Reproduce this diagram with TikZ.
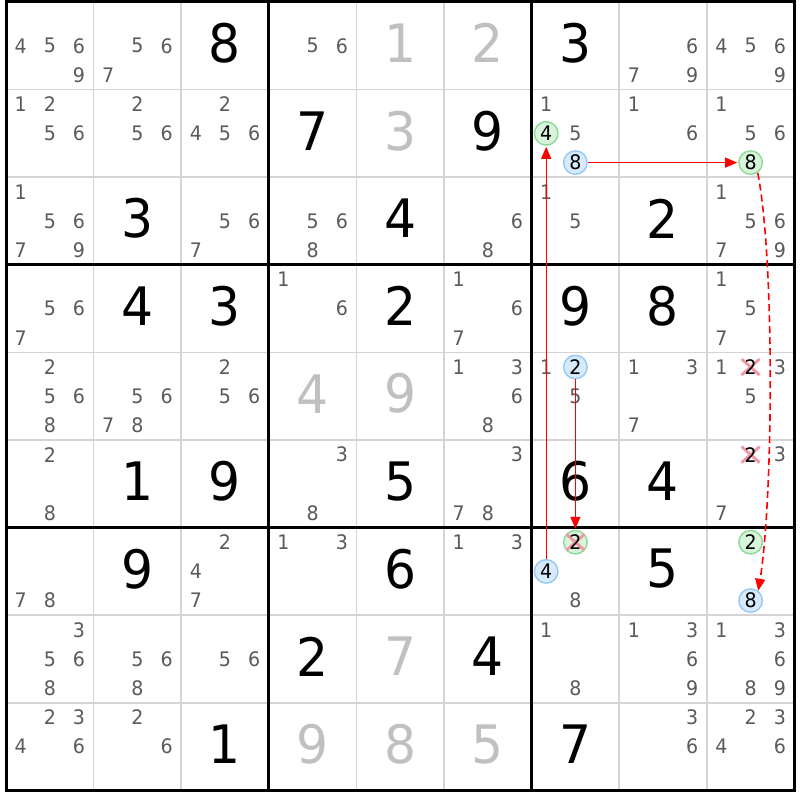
\documentclass[tikz,border=0pt]{standalone}
\usepackage{fontspec}
\usetikzlibrary{arrows.meta}
\newfontfamily\digf{DejaVu Sans}[FakeStretch=0.95]
\definecolor{cgray}{RGB}{90,90,90}
\definecolor{pgray}{RGB}{192,192,192}
\definecolor{gridgray}{RGB}{212,212,212}
\definecolor{bluebd}{RGB}{150,200,245}
\definecolor{bluefl}{RGB}{214,234,251}
\definecolor{greenbd}{RGB}{140,218,150}
\definecolor{greenfl}{RGB}{216,245,220}
\definecolor{crossc}{RGB}{242,150,162}
\def\gx{6}\def\gy{2}\def\cs{87.6}
\newcommand\cpos[3]{%
  \pgfmathsetmacro\px{\gx+(#2-1)*\cs+(mod(#3-1,3)+0.5)*\cs/3}%
  \pgfmathsetmacro\py{\gy+(#1-1)*\cs+(floor((#3-1)/3)+0.5)*\cs/3}%
}
\newcommand\cands[3]{\foreach \d in {#3}{\cpos{#1}{#2}{\d}\node[cand] (k-#1-#2-\d) at (\px,\py) {\d};}}
\newcommand\ccand[4]{\cpos{#2}{#3}{#4}\node[#1] (k-#2-#3-#4) at (\px,\py) {#4};}
% crossed candidate: optional background node, pink X, digit on top
\newcommand\xcand[4]{\cpos{#2}{#3}{#4}%
  \node[#1] (k-#2-#3-#4) at (\px,\py) {\phantom{#4}};
  \draw[crossl] (k-#2-#3-#4.center) +(-9,-8) -- +(9,8);
  \draw[crossl] (k-#2-#3-#4.center) +(-9,8) -- +(9,-8);
  \node[xtext] (t-#2-#3-#4) at (k-#2-#3-#4.center) {#4};}
\newcommand\given[3]{%
  \pgfmathsetmacro\px{\gx+(#2-0.5)*\cs}%
  \pgfmathsetmacro\py{\gy+(#1-0.5)*\cs-2.5}%
  \node[givenst] (g-#1-#2) at (\px,\py) {#3};}
\newcommand\placed[3]{%
  \pgfmathsetmacro\px{\gx+(#2-0.5)*\cs}%
  \pgfmathsetmacro\py{\gy+(#1-0.5)*\cs-2.5}%
  \node[placedst] (g-#1-#2) at (\px,\py) {#3};}
\begin{document}
\begin{tikzpicture}[x=1pt,y=-1pt,
  cand/.style={inner sep=0pt, text=cgray, font=\digf\fontsize{20}{20}\selectfont},
  xtext/.style={inner sep=0pt, text=black, font=\digf\fontsize{20}{20}\selectfont},
  plainx/.style={inner sep=0pt, font=\digf\fontsize{20}{20}\selectfont},
  givenst/.style={inner sep=0pt, text=black, font=\digf\fontsize{53}{53}\selectfont},
  placedst/.style={inner sep=0pt, text=pgray, font=\digf\fontsize{53}{53}\selectfont},
  bluec/.style={circle, draw=bluebd, fill=bluefl, line width=1.4pt, minimum size=23.5pt, inner sep=0pt, text=black, font=\digf\fontsize{20}{20}\selectfont},
  greenc/.style={circle, draw=greenbd, fill=greenfl, line width=1.4pt, minimum size=23.5pt, inner sep=0pt, text=black, font=\digf\fontsize{20}{20}\selectfont},
  thinl/.style={draw=gridgray, line width=1.6pt},
  thickl/.style={draw=black, line width=3pt},
  crossl/.style={draw=crossc, line width=2.8pt},
  arr/.style={draw=red, line width=1.3pt, -{Triangle[length=12pt,width=10pt]}, shorten >=1pt},
  arrd/.style={draw=red, line width=1.6pt, dash pattern=on 7pt off 4pt, -{Triangle[length=12pt,width=10pt]}}
]
\useasboundingbox (0,0) rectangle (800,800);
\fill[white] (0,0) rectangle (800,800);
% grid
\foreach \i in {1,2,4,5,7,8}{
  \draw[thinl] ({\gx+\i*\cs},\gy) -- ({\gx+\i*\cs},{\gy+9*\cs});
  \draw[thinl] (\gx,{\gy+\i*\cs}) -- ({\gx+9*\cs},{\gy+\i*\cs});
}
\foreach \i in {3,6}{
  \draw[thickl] ({\gx+\i*\cs},\gy) -- ({\gx+\i*\cs},{\gy+9*\cs});
  \draw[thickl] (\gx,{\gy+\i*\cs}) -- ({\gx+9*\cs},{\gy+\i*\cs});
}
\draw[thickl] (\gx,\gy) rectangle ({\gx+9*\cs},{\gy+9*\cs});
% row 1
\cands{1}{1}{4,5,6,9}\cands{1}{2}{5,6,7}\given{1}{3}{8}\cands{1}{4}{5,6}\placed{1}{5}{1}\placed{1}{6}{2}\given{1}{7}{3}\cands{1}{8}{6,7,9}\cands{1}{9}{4,5,6,9}
% row 2
\cands{2}{1}{1,2,5,6}\cands{2}{2}{2,5,6}\cands{2}{3}{2,4,5,6}\given{2}{4}{7}\placed{2}{5}{3}\given{2}{6}{9}
\cands{2}{7}{1,5}\ccand{greenc}{2}{7}{4}\ccand{bluec}{2}{7}{8}
\cands{2}{8}{1,6}\cands{2}{9}{1,5,6}\ccand{greenc}{2}{9}{8}
% row 3
\cands{3}{1}{1,5,6,7,9}\given{3}{2}{3}\cands{3}{3}{5,6,7}\cands{3}{4}{5,6,8}\given{3}{5}{4}\cands{3}{6}{6,8}\cands{3}{7}{1,5}\given{3}{8}{2}\cands{3}{9}{1,5,6,7,9}
% row 4
\cands{4}{1}{5,6,7}\given{4}{2}{4}\given{4}{3}{3}\cands{4}{4}{1,6}\given{4}{5}{2}\cands{4}{6}{1,6,7}\given{4}{7}{9}\given{4}{8}{8}\cands{4}{9}{1,5,7}
% row 5
\cands{5}{1}{2,5,6,8}\cands{5}{2}{5,6,7,8}\cands{5}{3}{2,5,6}\placed{5}{4}{4}\placed{5}{5}{9}\cands{5}{6}{1,3,6,8}
\cands{5}{7}{1,5}\ccand{bluec}{5}{7}{2}
\cands{5}{8}{1,3,7}\cands{5}{9}{1,3,5}\xcand{plainx}{5}{9}{2}
% row 6
\cands{6}{1}{2,8}\given{6}{2}{1}\given{6}{3}{9}\cands{6}{4}{3,8}\given{6}{5}{5}\cands{6}{6}{3,7,8}\given{6}{7}{6}\given{6}{8}{4}\cands{6}{9}{3,7}\xcand{plainx}{6}{9}{2}
% row 7
\cands{7}{1}{7,8}\given{7}{2}{9}\cands{7}{3}{2,4,7}\cands{7}{4}{1,3}\given{7}{5}{6}\cands{7}{6}{1,3}
\cands{7}{7}{8}\xcand{greenc}{7}{7}{2}\ccand{bluec}{7}{7}{4}
\given{7}{8}{5}\ccand{greenc}{7}{9}{2}\ccand{bluec}{7}{9}{8}
% row 8
\cands{8}{1}{3,5,6,8}\cands{8}{2}{5,6,8}\cands{8}{3}{5,6}\given{8}{4}{2}\placed{8}{5}{7}\given{8}{6}{4}\cands{8}{7}{1,8}\cands{8}{8}{1,3,6,9}\cands{8}{9}{1,3,6,8,9}
% row 9
\cands{9}{1}{2,3,4,6}\cands{9}{2}{2,6}\given{9}{3}{1}\placed{9}{4}{9}\placed{9}{5}{8}\placed{9}{6}{5}\given{9}{7}{7}\cands{9}{8}{3,6}\cands{9}{9}{2,3,4,6}
% links
\draw[arr] (k-7-7-4) -- (k-2-7-4);
\draw[arr] (k-2-7-8) -- (k-2-9-8);
\draw[arr] (k-5-7-2) -- (k-7-7-2);
\draw[arrd] (k-2-9-8.-55) .. controls (775,262) and (773,500) .. (k-7-9-8.52);
\end{tikzpicture}
\end{document}
